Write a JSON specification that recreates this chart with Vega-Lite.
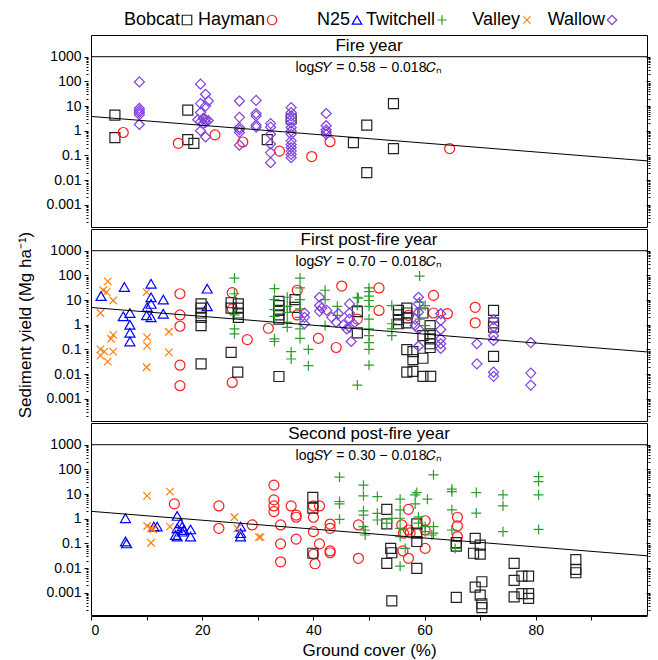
{
  "$schema": "https://vega.github.io/schema/vega-lite/v6.json",
  "padding": {"left": 16, "top": 11, "right": 5, "bottom": 5},
  "config": {
    "font": "Liberation Sans",
    "view": {"stroke": "black", "strokeWidth": 1},
    "axis": {"labelFont": "Liberation Sans", "titleFont": "Liberation Sans", "labelFontSize": 14, "titleFontSize": 17, "titleFontWeight": "normal", "labelColor": "black", "titleColor": "black", "tickColor": "black", "domainColor": "black", "grid": false},
    "header": {"titleFont": "Liberation Sans", "titleFontSize": 17, "titleFontWeight": "normal", "titleColor": "black"},
    "legend": {"orient": "none", "legendX": 87, "legendY": -24, "padding": 0, "direction": "horizontal", "columns": 6, "title": null, "labelFontSize": 18, "labelFont": "Liberation Sans", "labelColor": "black", "labelAlign": "right", "labelOffset": -16, "columnPadding": 0, "symbolSize": 90, "symbolStrokeWidth": 1.2, "gridAlign": "all"}
  },
  "data": {"values": [
    {"p":1,"k":"lab","t":"Fire year","e":"log𝑆𝑌 = 0.58 − 0.018𝐶ₙ"},
    {"p":2,"k":"lab","t":"First post-fire year","e":"log𝑆𝑌 = 0.70 − 0.018𝐶ₙ"},
    {"p":3,"k":"lab","t":"Second post-fire year","e":"log𝑆𝑌 = 0.30 − 0.018𝐶ₙ"},
    {"p":1,"k":"fit","x":0,"y":3.80},{"p":1,"k":"fit","x":100,"y":0.0603},
    {"p":2,"k":"fit","x":0,"y":5.01},{"p":2,"k":"fit","x":100,"y":0.0794},
    {"p":3,"k":"fit","x":0,"y":2.00},{"p":3,"k":"fit","x":100,"y":0.0316},

    {"p":1,"s":"Bobcat","x":4.3,"y":4.3},{"p":1,"s":"Bobcat","x":4.3,"y":0.53},{"p":1,"s":"Bobcat","x":17.4,"y":6.8},{"p":1,"s":"Bobcat","x":17.4,"y":0.44},{"p":1,"s":"Bobcat","x":18.5,"y":0.31},{"p":1,"s":"Bobcat","x":31.7,"y":0.44},{"p":1,"s":"Bobcat","x":36,"y":3},{"p":1,"s":"Bobcat","x":47.2,"y":0.33},{"p":1,"s":"Bobcat","x":49.6,"y":1.7},{"p":1,"s":"Bobcat","x":49.6,"y":0.02},{"p":1,"s":"Bobcat","x":54.4,"y":12.6},{"p":1,"s":"Bobcat","x":54.4,"y":0.19},
    {"p":1,"s":"Hayman","x":5.8,"y":0.85},{"p":1,"s":"Hayman","x":15.7,"y":0.31},{"p":1,"s":"Hayman","x":22.3,"y":0.68},{"p":1,"s":"Hayman","x":27.3,"y":0.35},{"p":1,"s":"Hayman","x":33.9,"y":0.15},{"p":1,"s":"Hayman","x":39.7,"y":0.09},{"p":1,"s":"Hayman","x":43,"y":0.36},{"p":1,"s":"Hayman","x":64.5,"y":0.19},
    {"p":1,"s":"Wallow","x":8.7,"y":95},{"p":1,"s":"Wallow","x":8.7,"y":8},{"p":1,"s":"Wallow","x":8.7,"y":6.5},{"p":1,"s":"Wallow","x":8.7,"y":5.5},{"p":1,"s":"Wallow","x":8.7,"y":4.5},{"p":1,"s":"Wallow","x":8.7,"y":1.8},
    {"p":1,"s":"Wallow","x":19.7,"y":77},{"p":1,"s":"Wallow","x":20.6,"y":30},{"p":1,"s":"Wallow","x":21.1,"y":16},{"p":1,"s":"Wallow","x":19.7,"y":12.6},{"p":1,"s":"Wallow","x":20.6,"y":10},{"p":1,"s":"Wallow","x":19.7,"y":5.5},{"p":1,"s":"Wallow","x":20.2,"y":3.2},{"p":1,"s":"Wallow","x":20.6,"y":2.8},{"p":1,"s":"Wallow","x":21.1,"y":2.6},{"p":1,"s":"Wallow","x":19.7,"y":2.3},{"p":1,"s":"Wallow","x":19.2,"y":2.8},{"p":1,"s":"Wallow","x":20.6,"y":2.2},{"p":1,"s":"Wallow","x":19.7,"y":1.0},{"p":1,"s":"Wallow","x":20.6,"y":0.56},{"p":1,"s":"Wallow","x":20.2,"y":2.0},
    {"p":1,"s":"Wallow","x":26.7,"y":16},{"p":1,"s":"Wallow","x":26.7,"y":3.5},{"p":1,"s":"Wallow","x":26.7,"y":1.35},{"p":1,"s":"Wallow","x":26.7,"y":1.1},{"p":1,"s":"Wallow","x":26.7,"y":0.85},{"p":1,"s":"Wallow","x":26.7,"y":0.26},
    {"p":1,"s":"Wallow","x":29.7,"y":17},{"p":1,"s":"Wallow","x":29.7,"y":5},{"p":1,"s":"Wallow","x":29.7,"y":4},{"p":1,"s":"Wallow","x":29.7,"y":1.7},{"p":1,"s":"Wallow","x":29.7,"y":1.4},
    {"p":1,"s":"Wallow","x":32.3,"y":1.95},{"p":1,"s":"Wallow","x":32.3,"y":1.4},{"p":1,"s":"Wallow","x":32.3,"y":0.72},{"p":1,"s":"Wallow","x":32.3,"y":0.29},{"p":1,"s":"Wallow","x":32.3,"y":0.13},{"p":1,"s":"Wallow","x":32.3,"y":0.051},
    {"p":1,"s":"Wallow","x":36,"y":8.7},{"p":1,"s":"Wallow","x":36,"y":5.5},{"p":1,"s":"Wallow","x":36,"y":4},{"p":1,"s":"Wallow","x":36,"y":2.9},{"p":1,"s":"Wallow","x":36,"y":2.1},{"p":1,"s":"Wallow","x":36,"y":1.35},{"p":1,"s":"Wallow","x":36,"y":0.98},{"p":1,"s":"Wallow","x":36,"y":0.72},{"p":1,"s":"Wallow","x":36,"y":0.39},{"p":1,"s":"Wallow","x":36,"y":0.28},{"p":1,"s":"Wallow","x":36,"y":0.21},{"p":1,"s":"Wallow","x":36,"y":0.15},{"p":1,"s":"Wallow","x":36,"y":0.11},{"p":1,"s":"Wallow","x":36,"y":0.081},
    {"p":1,"s":"Wallow","x":42.3,"y":5},{"p":1,"s":"Wallow","x":42.3,"y":1.6},{"p":1,"s":"Wallow","x":42.3,"y":1.1},{"p":1,"s":"Wallow","x":42.3,"y":0.9},{"p":1,"s":"Wallow","x":42.3,"y":0.72},

    {"p":2,"s":"Valley","x":3.0,"y":57},{"p":2,"s":"Valley","x":2.2,"y":25},{"p":2,"s":"Valley","x":2.8,"y":21},{"p":2,"s":"Valley","x":4.0,"y":9.6},{"p":2,"s":"Valley","x":1.7,"y":3},{"p":2,"s":"Valley","x":4.0,"y":0.39},{"p":2,"s":"Valley","x":3.6,"y":0.27},{"p":2,"s":"Valley","x":1.7,"y":0.1},{"p":2,"s":"Valley","x":2.4,"y":0.081},{"p":2,"s":"Valley","x":4.0,"y":0.081},{"p":2,"s":"Valley","x":1.7,"y":0.056},{"p":2,"s":"Valley","x":3.0,"y":0.032},{"p":2,"s":"Valley","x":10.0,"y":21},{"p":2,"s":"Valley","x":10.1,"y":0.31},{"p":2,"s":"Valley","x":10.1,"y":0.14},{"p":2,"s":"Valley","x":10.0,"y":0.019},{"p":2,"s":"Valley","x":14.0,"y":0.52},{"p":2,"s":"Valley","x":14.0,"y":0.076},
    {"p":2,"s":"N25","x":1.8,"y":14.5},{"p":2,"s":"N25","x":6.0,"y":34},{"p":2,"s":"N25","x":5.8,"y":2.2},{"p":2,"s":"N25","x":7.0,"y":3.0},{"p":2,"s":"N25","x":7.0,"y":1.0},{"p":2,"s":"N25","x":7.0,"y":0.47},{"p":2,"s":"N25","x":7.0,"y":0.21},{"p":2,"s":"N25","x":10.0,"y":2.4},{"p":2,"s":"N25","x":10.8,"y":46},{"p":2,"s":"N25","x":10.8,"y":13},{"p":2,"s":"N25","x":10.8,"y":7},{"p":2,"s":"N25","x":10.1,"y":5.2},{"p":2,"s":"N25","x":10.8,"y":2.0},{"p":2,"s":"N25","x":13.0,"y":10.5},{"p":2,"s":"N25","x":13.0,"y":2.8},{"p":2,"s":"N25","x":20.9,"y":29},{"p":2,"s":"N25","x":20.9,"y":5.6},
    {"p":2,"s":"Hayman","x":16.0,"y":18},{"p":2,"s":"Hayman","x":16.0,"y":2.5},{"p":2,"s":"Hayman","x":16.0,"y":0.87},{"p":2,"s":"Hayman","x":16.0,"y":0.023},{"p":2,"s":"Hayman","x":16.0,"y":0.0034},{"p":2,"s":"Hayman","x":25.4,"y":20},{"p":2,"s":"Hayman","x":25.4,"y":4.4},{"p":2,"s":"Hayman","x":25.4,"y":0.0046},{"p":2,"s":"Hayman","x":28.1,"y":0.25},{"p":2,"s":"Hayman","x":31.9,"y":0.72},{"p":2,"s":"Hayman","x":37.1,"y":25},{"p":2,"s":"Hayman","x":37.1,"y":2.5},{"p":2,"s":"Hayman","x":40.9,"y":0.28},{"p":2,"s":"Hayman","x":44.1,"y":0.12},{"p":2,"s":"Hayman","x":45.1,"y":37},{"p":2,"s":"Hayman","x":47.9,"y":1.7},{"p":2,"s":"Hayman","x":51.8,"y":31},{"p":2,"s":"Hayman","x":51.8,"y":3.8},{"p":2,"s":"Hayman","x":57.1,"y":2.4},{"p":2,"s":"Hayman","x":61.6,"y":15.5},{"p":2,"s":"Hayman","x":61.6,"y":3.0},{"p":2,"s":"Hayman","x":64.1,"y":2.8},{"p":2,"s":"Hayman","x":69.1,"y":5.1},{"p":2,"s":"Hayman","x":69.1,"y":1.2},
    {"p":2,"s":"Bobcat","x":19.8,"y":7},{"p":2,"s":"Bobcat","x":19.8,"y":4.7},{"p":2,"s":"Bobcat","x":19.8,"y":3},{"p":2,"s":"Bobcat","x":19.8,"y":2},{"p":2,"s":"Bobcat","x":19.8,"y":0.93},{"p":2,"s":"Bobcat","x":19.8,"y":0.026},{"p":2,"s":"Bobcat","x":25.2,"y":7.8},{"p":2,"s":"Bobcat","x":25.2,"y":4.7},{"p":2,"s":"Bobcat","x":26.5,"y":7},{"p":2,"s":"Bobcat","x":26.5,"y":4.7},{"p":2,"s":"Bobcat","x":26.5,"y":3},{"p":2,"s":"Bobcat","x":26.5,"y":2},{"p":2,"s":"Bobcat","x":25.2,"y":0.076},{"p":2,"s":"Bobcat","x":26.4,"y":0.012},{"p":2,"s":"Bobcat","x":33.8,"y":8.8},{"p":2,"s":"Bobcat","x":33.8,"y":6},{"p":2,"s":"Bobcat","x":33.8,"y":3.8},{"p":2,"s":"Bobcat","x":33.8,"y":2.5},{"p":2,"s":"Bobcat","x":33.8,"y":1.7},{"p":2,"s":"Bobcat","x":33.8,"y":0.008},{"p":2,"s":"Bobcat","x":36.7,"y":10.5},{"p":2,"s":"Bobcat","x":36.7,"y":5.1},{"p":2,"s":"Bobcat","x":47.9,"y":3.4},{"p":2,"s":"Bobcat","x":47.9,"y":0.47},{"p":2,"s":"Bobcat","x":55.3,"y":3.8},{"p":2,"s":"Bobcat","x":55.3,"y":2.5},{"p":2,"s":"Bobcat","x":55.3,"y":1.6},{"p":2,"s":"Bobcat","x":55.3,"y":1.1},{"p":2,"s":"Bobcat","x":56.8,"y":4.7},{"p":2,"s":"Bobcat","x":56.8,"y":3},{"p":2,"s":"Bobcat","x":56.8,"y":1.9},{"p":2,"s":"Bobcat","x":56.8,"y":1.2},{"p":2,"s":"Bobcat","x":59.7,"y":3},{"p":2,"s":"Bobcat","x":59.7,"y":0.36},{"p":2,"s":"Bobcat","x":61.0,"y":0.93},{"p":2,"s":"Bobcat","x":61.0,"y":0.43},{"p":2,"s":"Bobcat","x":61.0,"y":0.27},{"p":2,"s":"Bobcat","x":61.0,"y":0.17},{"p":2,"s":"Bobcat","x":61.0,"y":0.12},{"p":2,"s":"Bobcat","x":56.8,"y":0.098},{"p":2,"s":"Bobcat","x":57.9,"y":0.081},{"p":2,"s":"Bobcat","x":57.9,"y":0.039},{"p":2,"s":"Bobcat","x":59.7,"y":0.044},{"p":2,"s":"Bobcat","x":56.8,"y":0.012},{"p":2,"s":"Bobcat","x":57.9,"y":0.013},{"p":2,"s":"Bobcat","x":59.7,"y":0.0081},{"p":2,"s":"Bobcat","x":61.1,"y":0.0081},{"p":2,"s":"Bobcat","x":72.4,"y":3.8},{"p":2,"s":"Bobcat","x":72.4,"y":1.2},{"p":2,"s":"Bobcat","x":72.4,"y":0.8},{"p":2,"s":"Bobcat","x":72.4,"y":0.052},
    {"p":2,"s":"Twitchell","x":25.8,"y":78},{"p":2,"s":"Twitchell","x":25.8,"y":18},{"p":2,"s":"Twitchell","x":25.8,"y":2.5},{"p":2,"s":"Twitchell","x":25.8,"y":0.68},{"p":2,"s":"Twitchell","x":25.8,"y":0.43},
    {"p":2,"s":"Twitchell","x":33.0,"y":29},{"p":2,"s":"Twitchell","x":33.0,"y":10.5},{"p":2,"s":"Twitchell","x":33.0,"y":4.1},{"p":2,"s":"Twitchell","x":33.0,"y":2.2},{"p":2,"s":"Twitchell","x":33.0,"y":0.27},{"p":2,"s":"Twitchell","x":33.0,"y":0.21},
    {"p":2,"s":"Twitchell","x":35.3,"y":13},{"p":2,"s":"Twitchell","x":35.3,"y":5.6},{"p":2,"s":"Twitchell","x":35.3,"y":3.2},{"p":2,"s":"Twitchell","x":35.3,"y":1.26},{"p":2,"s":"Twitchell","x":35.3,"y":0.79},
    {"p":2,"s":"Twitchell","x":36.0,"y":0.081},{"p":2,"s":"Twitchell","x":36.0,"y":0.041},
    {"p":2,"s":"Twitchell","x":37.6,"y":78},{"p":2,"s":"Twitchell","x":37.6,"y":31},{"p":2,"s":"Twitchell","x":37.6,"y":10.5},{"p":2,"s":"Twitchell","x":37.6,"y":4.4},{"p":2,"s":"Twitchell","x":37.6,"y":2.0},{"p":2,"s":"Twitchell","x":37.6,"y":0.68},{"p":2,"s":"Twitchell","x":37.6,"y":0.28},
    {"p":2,"s":"Twitchell","x":39.1,"y":0.1},{"p":2,"s":"Twitchell","x":39.1,"y":0.022},
    {"p":2,"s":"Twitchell","x":42.1,"y":25},{"p":2,"s":"Twitchell","x":42.1,"y":10.5},{"p":2,"s":"Twitchell","x":42.1,"y":0.93},
    {"p":2,"s":"Twitchell","x":44.3,"y":5.6},{"p":2,"s":"Twitchell","x":44.3,"y":2.4},
    {"p":2,"s":"Twitchell","x":47.9,"y":13},{"p":2,"s":"Twitchell","x":47.9,"y":6},{"p":2,"s":"Twitchell","x":47.9,"y":0.0036},{"p":2,"s":"Twitchell","x":48.1,"y":12},
    {"p":2,"s":"Twitchell","x":50.0,"y":31},{"p":2,"s":"Twitchell","x":50.0,"y":22},{"p":2,"s":"Twitchell","x":50.0,"y":14.5},{"p":2,"s":"Twitchell","x":50.0,"y":9.6},{"p":2,"s":"Twitchell","x":50.0,"y":5.6},{"p":2,"s":"Twitchell","x":50.0,"y":1.7},{"p":2,"s":"Twitchell","x":50.0,"y":0.68},{"p":2,"s":"Twitchell","x":50.0,"y":0.36},{"p":2,"s":"Twitchell","x":50.0,"y":0.19},{"p":2,"s":"Twitchell","x":50.0,"y":0.1},{"p":2,"s":"Twitchell","x":50.0,"y":0.023},
    {"p":2,"s":"Twitchell","x":54.1,"y":6},{"p":2,"s":"Twitchell","x":54.1,"y":1.1},{"p":2,"s":"Twitchell","x":54.1,"y":0.68},{"p":2,"s":"Twitchell","x":54.1,"y":0.36},
    {"p":2,"s":"Twitchell","x":59.1,"y":94},{"p":2,"s":"Twitchell","x":59.1,"y":8.3},{"p":2,"s":"Twitchell","x":59.1,"y":4.4},{"p":2,"s":"Twitchell","x":59.1,"y":1.7},{"p":2,"s":"Twitchell","x":60.1,"y":6},{"p":2,"s":"Twitchell","x":60.1,"y":0.93},
    {"p":2,"s":"Wallow","x":38.4,"y":3.0},{"p":2,"s":"Wallow","x":38.4,"y":2.0},{"p":2,"s":"Wallow","x":38.4,"y":1.1},{"p":2,"s":"Wallow","x":41.1,"y":13},{"p":2,"s":"Wallow","x":41.1,"y":6},{"p":2,"s":"Wallow","x":41.1,"y":3.5},{"p":2,"s":"Wallow","x":41.5,"y":4.7},{"p":2,"s":"Wallow","x":42.4,"y":3.8},{"p":2,"s":"Wallow","x":43.3,"y":2.0},{"p":2,"s":"Wallow","x":44.1,"y":1.26},{"p":2,"s":"Wallow","x":44.5,"y":2.8},{"p":2,"s":"Wallow","x":45.4,"y":1.0},{"p":2,"s":"Wallow","x":46.5,"y":7},{"p":2,"s":"Wallow","x":46.5,"y":3.0},{"p":2,"s":"Wallow","x":46.5,"y":1.7},{"p":2,"s":"Wallow","x":46.5,"y":0.79},{"p":2,"s":"Wallow","x":46.8,"y":0.21},{"p":2,"s":"Wallow","x":47.2,"y":1.1},{"p":2,"s":"Wallow","x":46.0,"y":0.68},
    {"p":2,"s":"Wallow","x":58.9,"y":13},{"p":2,"s":"Wallow","x":58.9,"y":7},{"p":2,"s":"Wallow","x":58.9,"y":3.2},{"p":2,"s":"Wallow","x":58.3,"y":1.7},{"p":2,"s":"Wallow","x":58.3,"y":0.93},{"p":2,"s":"Wallow","x":58.9,"y":0.68},{"p":2,"s":"Wallow","x":58.9,"y":0.135},{"p":2,"s":"Wallow","x":62.9,"y":2.8},{"p":2,"s":"Wallow","x":62.9,"y":1.5},{"p":2,"s":"Wallow","x":62.9,"y":0.64},{"p":2,"s":"Wallow","x":62.9,"y":0.27},{"p":2,"s":"Wallow","x":62.9,"y":0.17},{"p":2,"s":"Wallow","x":62.9,"y":0.11},{"p":2,"s":"Wallow","x":69.4,"y":0.17},{"p":2,"s":"Wallow","x":69.4,"y":0.026},{"p":2,"s":"Wallow","x":72.4,"y":1.6},{"p":2,"s":"Wallow","x":72.4,"y":0.79},{"p":2,"s":"Wallow","x":72.4,"y":0.36},{"p":2,"s":"Wallow","x":72.4,"y":0.23},{"p":2,"s":"Wallow","x":72.4,"y":0.012},{"p":2,"s":"Wallow","x":72.4,"y":0.0081},{"p":2,"s":"Wallow","x":79.1,"y":0.19},{"p":2,"s":"Wallow","x":79.1,"y":0.011},{"p":2,"s":"Wallow","x":79.1,"y":0.0036},

    {"p":3,"s":"N25","x":6.2,"y":1.05},{"p":3,"s":"N25","x":6.2,"y":0.12},{"p":3,"s":"N25","x":6.4,"y":0.1},{"p":3,"s":"N25","x":11.9,"y":0.48},{"p":3,"s":"N25","x":11.3,"y":0.48},{"p":3,"s":"N25","x":15.5,"y":1.3},{"p":3,"s":"N25","x":15.5,"y":0.41},{"p":3,"s":"N25","x":15.5,"y":0.19},{"p":3,"s":"N25","x":16.1,"y":0.66},{"p":3,"s":"N25","x":16.4,"y":0.48},{"p":3,"s":"N25","x":16.4,"y":0.3},{"p":3,"s":"N25","x":16.7,"y":0.35},{"p":3,"s":"N25","x":15.2,"y":0.22},{"p":3,"s":"N25","x":17.9,"y":0.37},{"p":3,"s":"N25","x":17.9,"y":0.19},{"p":3,"s":"N25","x":26.9,"y":0.48},{"p":3,"s":"N25","x":26.9,"y":0.26},{"p":3,"s":"N25","x":26.9,"y":0.19},
    {"p":3,"s":"Valley","x":10.1,"y":8.5},{"p":3,"s":"Valley","x":14.2,"y":12.5},{"p":3,"s":"Valley","x":10.1,"y":0.51},{"p":3,"s":"Valley","x":10.8,"y":0.41},{"p":3,"s":"Valley","x":11.2,"y":0.37},{"p":3,"s":"Valley","x":10.8,"y":0.107},{"p":3,"s":"Valley","x":14.2,"y":0.48},{"p":3,"s":"Valley","x":25.8,"y":1.15},{"p":3,"s":"Valley","x":26.3,"y":0.41},{"p":3,"s":"Valley","x":30.2,"y":0.18},{"p":3,"s":"Valley","x":30.5,"y":0.18},
    {"p":3,"s":"Hayman","x":15.0,"y":4.0},{"p":3,"s":"Hayman","x":23.0,"y":3.3},{"p":3,"s":"Hayman","x":23.0,"y":0.41},{"p":3,"s":"Hayman","x":29.0,"y":0.56},{"p":3,"s":"Hayman","x":32.9,"y":23},{"p":3,"s":"Hayman","x":32.9,"y":5.8},{"p":3,"s":"Hayman","x":32.9,"y":3.3},{"p":3,"s":"Hayman","x":32.9,"y":1.95},{"p":3,"s":"Hayman","x":34.1,"y":0.56},{"p":3,"s":"Hayman","x":34.1,"y":0.096},{"p":3,"s":"Hayman","x":34.1,"y":0.018},{"p":3,"s":"Hayman","x":36.0,"y":3.3},{"p":3,"s":"Hayman","x":36.9,"y":1.4},{"p":3,"s":"Hayman","x":36.9,"y":1.15},{"p":3,"s":"Hayman","x":36.9,"y":0.15},{"p":3,"s":"Hayman","x":40.0,"y":3.3},{"p":3,"s":"Hayman","x":40.0,"y":1.15},{"p":3,"s":"Hayman","x":40.0,"y":0.3},{"p":3,"s":"Hayman","x":40.0,"y":0.037},{"p":3,"s":"Hayman","x":40.3,"y":0.015},{"p":3,"s":"Hayman","x":41.1,"y":3.3},{"p":3,"s":"Hayman","x":41.1,"y":0.096},{"p":3,"s":"Hayman","x":43.0,"y":0.61},{"p":3,"s":"Hayman","x":43.0,"y":0.41},{"p":3,"s":"Hayman","x":43.0,"y":0.05},{"p":3,"s":"Hayman","x":43.0,"y":0.042},{"p":3,"s":"Hayman","x":48.1,"y":0.56},{"p":3,"s":"Hayman","x":48.1,"y":0.025},{"p":3,"s":"Hayman","x":55.9,"y":0.56},{"p":3,"s":"Hayman","x":56.1,"y":0.05},{"p":3,"s":"Hayman","x":56.2,"y":0.26},{"p":3,"s":"Hayman","x":57.1,"y":2.4},{"p":3,"s":"Hayman","x":57.1,"y":0.35},{"p":3,"s":"Hayman","x":57.4,"y":0.27},{"p":3,"s":"Hayman","x":57.1,"y":0.025},{"p":3,"s":"Hayman","x":60.1,"y":0.83},{"p":3,"s":"Hayman","x":60.1,"y":0.35},{"p":3,"s":"Hayman","x":60.1,"y":0.063},{"p":3,"s":"Hayman","x":65.9,"y":1.15},{"p":3,"s":"Hayman","x":65.9,"y":0.51},{"p":3,"s":"Hayman","x":65.9,"y":0.19},
    {"p":3,"s":"Bobcat","x":39.9,"y":7.4},{"p":3,"s":"Bobcat","x":39.9,"y":2.7},{"p":3,"s":"Bobcat","x":39.9,"y":0.04},{"p":3,"s":"Bobcat","x":53.2,"y":2.4},{"p":3,"s":"Bobcat","x":53.2,"y":0.62},{"p":3,"s":"Bobcat","x":53.9,"y":0.063},{"p":3,"s":"Bobcat","x":54.1,"y":0.042},{"p":3,"s":"Bobcat","x":53.2,"y":0.0155},{"p":3,"s":"Bobcat","x":54.1,"y":0.00047},{"p":3,"s":"Bobcat","x":58.6,"y":0.62},{"p":3,"s":"Bobcat","x":58.6,"y":0.26},{"p":3,"s":"Bobcat","x":58.6,"y":0.12},{"p":3,"s":"Bobcat","x":58.6,"y":0.0098},{"p":3,"s":"Bobcat","x":65.7,"y":0.107},{"p":3,"s":"Bobcat","x":65.7,"y":0.078},{"p":3,"s":"Bobcat","x":65.7,"y":0.00065},{"p":3,"s":"Bobcat","x":69.1,"y":0.16},{"p":3,"s":"Bobcat","x":68.8,"y":0.04},{"p":3,"s":"Bobcat","x":70.0,"y":0.085},{"p":3,"s":"Bobcat","x":70.0,"y":0.037},{"p":3,"s":"Bobcat","x":70.3,"y":0.0028},{"p":3,"s":"Bobcat","x":69.1,"y":0.0017},{"p":3,"s":"Bobcat","x":70.0,"y":0.0008},{"p":3,"s":"Bobcat","x":70.3,"y":0.00036},{"p":3,"s":"Bobcat","x":70.3,"y":0.00025},{"p":3,"s":"Bobcat","x":76.1,"y":0.0155},{"p":3,"s":"Bobcat","x":76.1,"y":0.0032},{"p":3,"s":"Bobcat","x":76.1,"y":0.00068},{"p":3,"s":"Bobcat","x":77.5,"y":0.0047},{"p":3,"s":"Bobcat","x":78.7,"y":0.0047},{"p":3,"s":"Bobcat","x":77.5,"y":0.00093},{"p":3,"s":"Bobcat","x":78.7,"y":0.00093},{"p":3,"s":"Bobcat","x":78.7,"y":0.00059},{"p":3,"s":"Bobcat","x":87.2,"y":0.022},{"p":3,"s":"Bobcat","x":87.2,"y":0.0089},{"p":3,"s":"Bobcat","x":87.2,"y":0.0065},
    {"p":3,"s":"Twitchell","x":44.7,"y":49},{"p":3,"s":"Twitchell","x":44.7,"y":5.0},{"p":3,"s":"Twitchell","x":44.7,"y":4.0},{"p":3,"s":"Twitchell","x":44.7,"y":0.95},{"p":3,"s":"Twitchell","x":49.0,"y":23},{"p":3,"s":"Twitchell","x":49.0,"y":8.5},{"p":3,"s":"Twitchell","x":49.0,"y":2.1},{"p":3,"s":"Twitchell","x":49.0,"y":1.4},{"p":3,"s":"Twitchell","x":49.0,"y":0.48},{"p":3,"s":"Twitchell","x":49.3,"y":0.35},{"p":3,"s":"Twitchell","x":49.3,"y":0.22},{"p":3,"s":"Twitchell","x":51.5,"y":7.9},{"p":3,"s":"Twitchell","x":51.5,"y":1.66},{"p":3,"s":"Twitchell","x":51.5,"y":0.89},{"p":3,"s":"Twitchell","x":53.2,"y":0.66},{"p":3,"s":"Twitchell","x":54.1,"y":1.05},{"p":3,"s":"Twitchell","x":55.6,"y":6.2},{"p":3,"s":"Twitchell","x":55.6,"y":2.3},{"p":3,"s":"Twitchell","x":55.6,"y":1.05},{"p":3,"s":"Twitchell","x":55.6,"y":0.41},{"p":3,"s":"Twitchell","x":55.6,"y":0.19},{"p":3,"s":"Twitchell","x":55.6,"y":0.012},{"p":3,"s":"Twitchell","x":56.5,"y":0.063},{"p":3,"s":"Twitchell","x":58.3,"y":9.3},{"p":3,"s":"Twitchell","x":58.3,"y":4.0},{"p":3,"s":"Twitchell","x":58.6,"y":11.5},{"p":3,"s":"Twitchell","x":60.5,"y":6.2},{"p":3,"s":"Twitchell","x":58.9,"y":1.2},{"p":3,"s":"Twitchell","x":58.9,"y":0.66},{"p":3,"s":"Twitchell","x":60.1,"y":0.48},{"p":3,"s":"Twitchell","x":60.1,"y":0.3},{"p":3,"s":"Twitchell","x":61.6,"y":60},{"p":3,"s":"Twitchell","x":61.6,"y":0.48},{"p":3,"s":"Twitchell","x":61.6,"y":0.26},{"p":3,"s":"Twitchell","x":61.3,"y":0.22},{"p":3,"s":"Twitchell","x":64.9,"y":16},{"p":3,"s":"Twitchell","x":64.9,"y":12.5},{"p":3,"s":"Twitchell","x":64.9,"y":2.3},{"p":3,"s":"Twitchell","x":64.9,"y":0.35},{"p":3,"s":"Twitchell","x":65.5,"y":0.063},{"p":3,"s":"Twitchell","x":69.3,"y":11.5},{"p":3,"s":"Twitchell","x":69.3,"y":1.7},{"p":3,"s":"Twitchell","x":74.1,"y":9.3},{"p":3,"s":"Twitchell","x":74.1,"y":3.3},{"p":3,"s":"Twitchell","x":74.1,"y":0.3},{"p":3,"s":"Twitchell","x":80.5,"y":51},{"p":3,"s":"Twitchell","x":80.5,"y":32},{"p":3,"s":"Twitchell","x":80.5,"y":9.3},{"p":3,"s":"Twitchell","x":80.5,"y":0.37}
  ]},
  "facet": {"row": {"field": "p", "type": "ordinal", "title": "Sediment yield (Mg ha⁻¹)", "header": {"labels": false, "labelPadding": 0, "titleFontSize": 17, "titleFontWeight": "normal", "titleFont": "Liberation Sans", "titlePadding": 0}}},
  "spacing": 0,
  "spec": {
    "width": 556,
    "height": 192,
    "resolve": {"axis": {"y": "independent"}},
    "layer": [
      {
        "transform": [{"filter": "datum.k === 'lab'"}],
        "mark": {"type": "rule", "color": "black", "strokeWidth": 1},
        "encoding": {
          "y": {"datum": 1000, "type": "quantitative", "scale": {"type": "log"},
                "axis": {"orient": "right", "values": [0.001, 0.01, 0.1, 1, 10, 100, 1000], "labels": false, "domain": false, "tickSize": -4, "title": null}}
        }
      },
      {
        "transform": [{"filter": "datum.s"}],
        "mark": {"type": "point", "filled": false, "strokeWidth": 1.2, "size": 100, "opacity": 1},
        "encoding": {
          "x": {"field": "x", "type": "quantitative", "scale": {"domain": [0, 100], "nice": false, "zero": false},
                "axis": {"title": "Ground cover (%)", "values": [0,5,10,15,20,25,30,35,40,45,50,55,60,65,70,75,80,85,90,95], "labelExpr": "datum.value % 20 === 0 ? datum.label : ''", "tickSize": 4, "labelPadding": 3, "titlePadding": 5}},
          "y": {"field": "y", "type": "quantitative", "scale": {"type": "log", "domain": [0.000126, 7580], "nice": false},
                "axis": {"title": null, "values": [0.001, 0.01, 0.1, 1, 10, 100, 1000], "format": "~g", "tickSize": 4, "labelPadding": 3, "domain": false}},
          "color": {"field": "s", "type": "nominal",
                    "scale": {"domain": ["Bobcat", "Hayman", "N25", "Twitchell", "Valley", "Wallow"], "range": ["#222222", "#ff1a1a", "#0000ff", "#2e9e2e", "#ff7f0e", "#8040e0"]},
                    "legend": {"title": null}},
          "shape": {"field": "s", "type": "nominal",
                    "scale": {"domain": ["Bobcat", "Hayman", "N25", "Twitchell", "Valley", "Wallow"], "range": ["square", "circle", "triangle-up", "M-1,0H1M0,-1V1", "M-0.75,-0.75L0.75,0.75M-0.75,0.75L0.75,-0.75", "diamond"]},
                    "legend": {"title": null}}
        }
      },
      {
        "transform": [{"filter": "datum.k === 'fit'"}],
        "mark": {"type": "line", "color": "black", "strokeWidth": 1},
        "encoding": {
          "x": {"field": "x", "type": "quantitative"},
          "y": {"field": "y", "type": "quantitative", "axis": {"orient": "left", "values": [0.0002,0.0003,0.0004,0.0005,0.0006,0.0007,0.0008,0.0009,0.002,0.003,0.004,0.005,0.006,0.007,0.008,0.009,0.02,0.03,0.04,0.05,0.06,0.07,0.08,0.09,0.2,0.3,0.4,0.5,0.6,0.7,0.8,0.9,2,3,4,5,6,7,8,9,20,30,40,50,60,70,80,90,200,300,400,500,600,700,800,900], "labels": false, "domain": false, "tickSize": 2, "title": null}}
        }
      },
      {
        "transform": [{"filter": "datum.k === 'lab'"}],
        "mark": {"type": "text", "fontSize": 17, "font": "Liberation Sans", "color": "black", "baseline": "middle"},
        "encoding": {
          "x": {"datum": 50, "type": "quantitative"},
          "y": {"datum": 2750, "type": "quantitative", "axis": {"orient": "right", "values": [0.0002,0.0003,0.0004,0.0005,0.0006,0.0007,0.0008,0.0009,0.002,0.003,0.004,0.005,0.006,0.007,0.008,0.009,0.02,0.03,0.04,0.05,0.06,0.07,0.08,0.09,0.2,0.3,0.4,0.5,0.6,0.7,0.8,0.9,2,3,4,5,6,7,8,9,20,30,40,50,60,70,80,90,200,300,400,500,600,700,800,900], "labels": false, "domain": false, "tickSize": -2, "title": null}},
          "text": {"field": "t"}
        }
      },
      {
        "transform": [{"filter": "datum.k === 'lab'"}],
        "mark": {"type": "text", "fontSize": 14, "font": "Liberation Sans", "color": "black", "baseline": "middle"},
        "encoding": {
          "x": {"datum": 50, "type": "quantitative"},
          "y": {"datum": 350, "type": "quantitative", "axis": null},
          "text": {"field": "e"}
        }
      }
    ]
  }
}
